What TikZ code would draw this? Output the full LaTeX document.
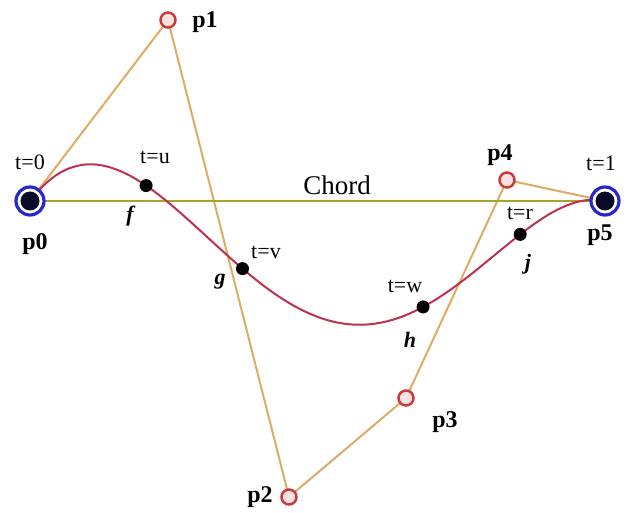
\documentclass[tikz,border=0pt]{standalone}
\usepackage{fontspec}
\setmainfont{Liberation Serif}
\begin{document}
\begin{tikzpicture}[x=1pt,y=-1pt,
  declare function={
    bx(\t)=(1-\t)^5*30+5*\t*(1-\t)^4*168+10*\t^2*(1-\t)^3*289+10*\t^3*(1-\t)^2*406+5*\t^4*(1-\t)*507+\t^5*605;
    by(\t)=(1-\t)^5*201+5*\t*(1-\t)^4*20+10*\t^2*(1-\t)^3*497+10*\t^3*(1-\t)^2*398+5*\t^4*(1-\t)*180+\t^5*201;
  },
  poly/.style={draw=polyc,line width=2pt},
  chordline/.style={draw=chordc,line width=2pt},
  curve/.style={draw=curvec,line width=2pt},
  cp/.style={circle,draw=cpring,line width=2.5pt,fill=cpfill,minimum size=15pt,inner sep=0pt},
  endpt/.style={circle,draw=endblue,line width=3.2pt,fill=white,minimum size=28pt,inner sep=0pt,
     path picture={\fill[endcore] (path picture bounding box.center) circle (9.5pt);}},
  dot/.style={circle,fill=black,minimum size=13pt,inner sep=0pt},
  plab/.style={font=\fontsize{24}{24}\selectfont\bfseries},
  tlab/.style={font=\fontsize{22}{22}\selectfont},
  clab/.style={font=\fontsize{22}{22}\selectfont\bfseries\itshape},
]
\definecolor{polyc}{RGB}{222,172,100}
\definecolor{chordc}{RGB}{165,165,45}
\definecolor{curvec}{RGB}{190,50,80}
\definecolor{cpring}{RGB}{200,60,60}
\definecolor{cpfill}{RGB}{252,225,225}
\definecolor{endblue}{RGB}{40,40,200}
\definecolor{endcore}{RGB}{10,10,40}
\useasboundingbox (0,0) rectangle (626,513);
\fill[white] (0,0) rectangle (626,513);
\coordinate (P0) at (30,201);
\coordinate (P1) at (168,20);
\coordinate (P2) at (289,497);
\coordinate (P3) at (406,398);
\coordinate (P4) at (507,180);
\coordinate (P5) at (605,201);
\draw[poly] (P0) -- (P1) -- (P2) -- (P3) -- (P4) -- (P5);
\draw[chordline] (P0) -- (P5);
\draw[curve] plot[variable=\t,domain=0:1,samples=160] ({bx(\t)},{by(\t)});
\node[endpt] (p0) at (P0) {};
\node[endpt] (p5) at (P5) {};
\node[cp] (p1) at (P1) {};
\node[cp] (p2) at (P2) {};
\node[cp] (p3) at (P3) {};
\node[cp] (p4) at (P4) {};
\node[dot] (f) at ({bx(0.175)},{by(0.175)}) {};
\node[dot] (g) at ({bx(0.33)},{by(0.33)}) {};
\node[dot] (h) at ({bx(0.645)},{by(0.645)}) {};
\node[dot] (j) at ({bx(0.83)},{by(0.83)}) {};
\node[plab] (lp0) at (35,244) {p0};
\node[plab] (lp1) at (205,22) {p1};
\node[plab] (lp2) at (260,497) {p2};
\node[plab] (lp3) at (445,422) {p3};
\node[plab] (lp4) at (500,155) {p4};
\node[plab] (lp5) at (600,235) {p5};
\node[tlab] (t0) at (30,162) {t=0};
\node[tlab] (t1) at (601,163) {t=1};
\node[tlab] (tu) at (155,157) {t=u};
\node[tlab] (tv) at (266,252) {t=v};
\node[tlab] (tw) at (405,286) {t=w};
\node[tlab] (tr) at (520,213) {t=r};
\node[clab] (lf) at (130,216) {f};
\node[clab] (lg) at (220,282) {g};
\node[clab] (lh) at (410,340) {h};
\node[clab] (lj) at (528,264) {j};
\node[font=\fontsize{27}{27}\selectfont] (chord) at (337,185) {Chord};
\end{tikzpicture}
\end{document}
